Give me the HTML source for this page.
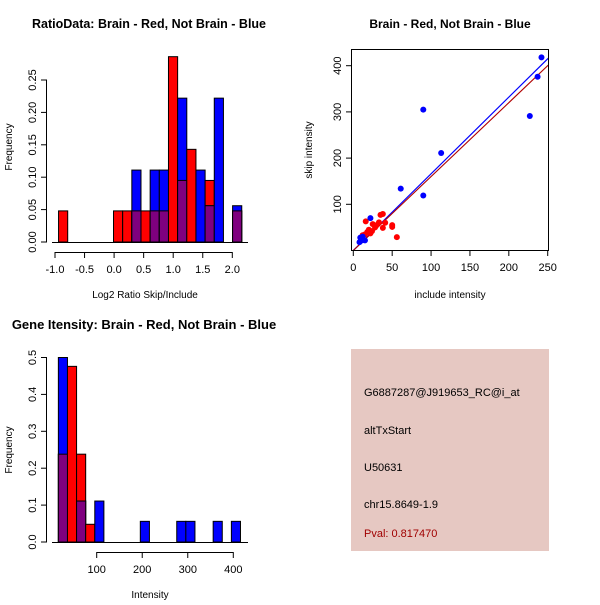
<!DOCTYPE html>
<html><head><meta charset="utf-8"><style>
body{margin:0;background:#fff}
svg text{font-family:"Liberation Sans",sans-serif;fill:#000}
</style></head><body>
<svg id="s" width="600" height="600" viewBox="0 0 600 600">
<rect width="600" height="600" fill="#fff"/>
<g id="p1"></g>
<g id="p2"></g>
<g id="p3"></g>
<g>
<rect x="351" y="349" width="198" height="202" fill="#e6c8c2"/>
<text x="364" y="396" font-size="11">G6887287@J919653_RC@i_at</text>
<text x="364" y="434" font-size="11">altTxStart</text>
<text x="364" y="471" font-size="11">U50631</text>
<text x="364" y="508" font-size="11">chr15.8649-1.9</text>
<text x="364" y="537" font-size="11" fill="#a00000" style="fill:#a00000">Pval: 0.817470</text>
</g>
</svg>
<script>
// ---- Plot 1 data: ratio histogram ----
const p1BinIndex = [-6,0,1,2,3,4,5,6,7,8,9,10,11,13];
const p1Red  = [0.048,0.048,0.048,0.048,0.048,0.048,0.048,0.286,0.095,0.143,0,0.095,0,0.048];
const p1Blue = [0,0,0,0.111,0,0.111,0.111,0,0.222,0,0.111,0.056,0.222,0.056];
const p1XTicks = [-1.0,-0.5,0.0,0.5,1.0,1.5,2.0];
const p1XTickLabels = ["-1.0","-0.5","0.0","0.5","1.0","1.5","2.0"];
const p1YTicks = [0,0.05,0.1,0.15,0.2,0.25];
const p1YTickLabels = ["0.00","0.05","0.10","0.15","0.20","0.25"];
// ---- Plot 2 data: scatter ----
const blueInc = [242,237,227,90,113,61,90,22,10,8,12,15,9,11];
const blueSkip= [418,376,291,305,211,134,119,70,25,18,30,22,28,22];
const redInc  = [16,35,38,33,25,41,38,50,50,56,20,18,28,22,15,30,12,24];
const redSkip = [63,77,79,61,57,60,49,55,51,29,45,40,50,37,35,55,33,42];
const blueFit = [0,1.66];
const redFit  = [0,1.6];
const p2XTicks = [0,50,100,150,200,250];
const p2YTicks = [100,200,300,400];
// ---- Plot 3 data: intensity histogram ----
const p3BinIndex = [0,1,2,3,4,9,13,14,17,19];
const p3Red  = [0.238,0.476,0.238,0.048,0,0,0,0,0,0];
const p3Blue = [0.5,0,0.111,0,0.111,0.056,0.056,0.056,0.056,0.056];
const p3XTicks = [100,200,300,400];
const p3YTicks = [0,0.1,0.2,0.3,0.4,0.5];
const p3YTickLabels = ["0.0","0.1","0.2","0.3","0.4","0.5"];

const NS="http://www.w3.org/2000/svg";
function mk(parent,tag,attrs,txt){const e=document.createElementNS(NS,tag);for(const k in attrs)e.setAttribute(k,attrs[k]);if(txt!==undefined)e.textContent=txt;parent.appendChild(e);return e;}
const RED="#ff0000",BLUE="#0000ff",PUR="#7f007f";

// Plot 1
(function(){
const g=document.getElementById('p1');
const x=v=>55+(v+1)*59.1, y=v=>242-v*648;
const bw=0.155, b0=-0.01;
function edge(i){return b0+i*bw;}
p1BinIndex.forEach((bi,i)=>{
  const x0=x(edge(bi)),w=bw*59.1;
  const r=p1Red[i],b=p1Blue[i];
  if(r>0){const e=mk(g,'rect',{x:x0,y:y(r),width:w,height:242-y(r),fill:RED,stroke:'#000','stroke-width':1});
  
  }
  if(b>0){const e=mk(g,'rect',{x:x0,y:y(b),width:w,height:242-y(b),fill:BLUE,stroke:'#000','stroke-width':1});
  
  }
  if(r>0&&b>0){const m=Math.min(r,b);const e=mk(g,'rect',{x:x0,y:y(m),width:w,height:242-y(m),fill:PUR,stroke:'#000','stroke-width':1});
  
  }
});
mk(g,'line',{x1:52,x2:248,y1:242.5,y2:242.5,stroke:'#000'});
mk(g,'line',{x1:x(-1),x2:x(2),y1:252.5,y2:252.5,stroke:'#000'});
p1XTicks.forEach((t,i)=>{mk(g,'line',{x1:x(t),x2:x(t),y1:252,y2:258,stroke:'#000'});
  const e=mk(g,'text',{x:x(t),y:273,'font-size':11,'text-anchor':'middle'},p1XTickLabels[i]);
  
  });
mk(g,'line',{x1:46.5,x2:46.5,y1:y(0),y2:y(0.25),stroke:'#000'});
p1YTicks.forEach((t,i)=>{mk(g,'line',{x1:41,x2:47,y1:y(t),y2:y(t),stroke:'#000'});
  const e=mk(g,'text',{x:36,y:y(t),'font-size':11,'text-anchor':'middle',transform:`rotate(-90 36 ${y(t)})`},p1YTickLabels[i]);
  
  });
let e=mk(g,'text',{x:149,y:28,'font-size':12.5,'font-weight':'bold','text-anchor':'middle'},'RatioData: Brain - Red, Not Brain - Blue');


e=mk(g,'text',{x:145,y:298,'font-size':10,'text-anchor':'middle'},'Log2 Ratio Skip/Include');


e=mk(g,'text',{x:12,y:147,'font-size':10,'text-anchor':'middle',transform:'rotate(-90 12 147)'},'Frequency');


})();

// Plot 2
(function(){
const g=document.getElementById('p2');
const x=v=>353.3+v*0.7776, y=v=>250.5-(v-(-0.5))*0.462-(-0.5*0.462)+ (204.3-250.5+100*0.462);
mk(g,'rect',{x:351.5,y:49.5,width:197,height:201,fill:'none',stroke:'#000'});
const clip=mk(g,'clipPath',{id:'c2'});mk(clip,'rect',{x:352,y:50,width:196,height:200});
const lg=mk(g,'g',{'clip-path':'url(#c2)'});
let l=mk(lg,'line',{x1:x(0),y1:y(blueFit[0]),x2:x(260),y2:y(blueFit[0]+blueFit[1]*260),stroke:BLUE,'stroke-width':1.2});


l=mk(lg,'line',{x1:x(0),y1:y(redFit[0]),x2:x(260),y2:y(redFit[0]+redFit[1]*260),stroke:'#b00000','stroke-width':1.1});


redInc.forEach((v,i)=>{const c=mk(g,'circle',{cx:x(v),cy:y(redSkip[i]),r:3,fill:RED});
  
  });
blueInc.forEach((v,i)=>{const c=mk(g,'circle',{cx:x(v),cy:y(blueSkip[i]),r:3,fill:BLUE});
  
  });
p2XTicks.forEach(t=>{mk(g,'line',{x1:x(t),x2:x(t),y1:250,y2:256,stroke:'#000'});
  const e=mk(g,'text',{x:x(t),y:271,'font-size':11,'text-anchor':'middle'},String(t));
  
  });
p2YTicks.forEach(t=>{mk(g,'line',{x1:346,x2:352,y1:y(t),y2:y(t),stroke:'#000'});
  const e=mk(g,'text',{x:341,y:y(t),'font-size':11,'text-anchor':'middle',transform:`rotate(-90 341 ${y(t)})`},String(t));
  
  });
let e=mk(g,'text',{x:450,y:28,'font-size':12,'font-weight':'bold','text-anchor':'middle'},'Brain - Red, Not Brain - Blue');


e=mk(g,'text',{x:450,y:298,'font-size':10,'text-anchor':'middle'},'include intensity');


e=mk(g,'text',{x:312,y:150,'font-size':10,'text-anchor':'middle',transform:'rotate(-90 312 150)'},'skip intensity');


})();

// Plot 3
(function(){
const g=document.getElementById('p3');
const x=v=>96.7+(v-100)*0.4553, y=v=>542-v*369;
const bw=20, b0=15.8;
p3BinIndex.forEach((bi,i)=>{
  const x0=x(b0+bi*bw),w=bw*0.4553;
  const r=p3Red[i],b=p3Blue[i];
  if(r>0){const e=mk(g,'rect',{x:x0,y:y(r),width:w,height:542-y(r),fill:RED,stroke:'#000','stroke-width':1});
  
  }
  if(b>0){const e=mk(g,'rect',{x:x0,y:y(b),width:w,height:542-y(b),fill:BLUE,stroke:'#000','stroke-width':1});
  
  }
  if(r>0&&b>0){const m=Math.min(r,b);const e=mk(g,'rect',{x:x0,y:y(m),width:w,height:542-y(m),fill:PUR,stroke:'#000','stroke-width':1});
  
  }
});
mk(g,'line',{x1:52,x2:248,y1:542.5,y2:542.5,stroke:'#000'});
mk(g,'line',{x1:x(100),x2:x(400),y1:552.5,y2:552.5,stroke:'#000'});
p3XTicks.forEach(t=>{mk(g,'line',{x1:x(t),x2:x(t),y1:552,y2:558,stroke:'#000'});
  const e=mk(g,'text',{x:x(t),y:573,'font-size':11,'text-anchor':'middle'},String(t));
  
  });
mk(g,'line',{x1:46.5,x2:46.5,y1:y(0),y2:y(0.5),stroke:'#000'});
p3YTicks.forEach((t,i)=>{mk(g,'line',{x1:41,x2:47,y1:y(t),y2:y(t),stroke:'#000'});
  const e=mk(g,'text',{x:36,y:y(t),'font-size':11,'text-anchor':'middle',transform:`rotate(-90 36 ${y(t)})`},p3YTickLabels[i]);
  
  });
let e=mk(g,'text',{x:144,y:329,'font-size':13,'font-weight':'bold','text-anchor':'middle'},'Gene Itensity: Brain - Red, Not Brain - Blue');


e=mk(g,'text',{x:150,y:598,'font-size':10,'text-anchor':'middle'},'Intensity');


e=mk(g,'text',{x:12,y:450,'font-size':10,'text-anchor':'middle',transform:'rotate(-90 12 450)'},'Frequency');


})();
</script>
</body></html>
